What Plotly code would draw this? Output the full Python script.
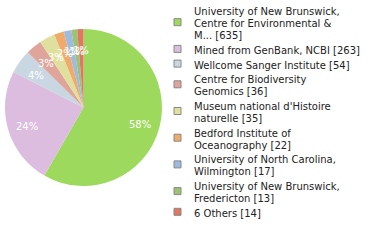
import math
import plotly.graph_objects as go

# ---- data ----
name_lines = [
    ["University of New Brunswick,", "Centre for Environmental &", "M..."],
    ["Mined from GenBank, NCBI"],
    ["Wellcome Sanger Institute"],
    ["Centre for Biodiversity", "Genomics"],
    ["Museum national d'Histoire", "naturelle"],
    ["Bedford Institute of", "Oceanography"],
    ["University of North Carolina,", "Wilmington"],
    ["University of New Brunswick,", "Fredericton"],
    ["6 Others"],
]
counts = [635, 263, 54, 36, 35, 22, 17, 13, 14]
colors = ["#9dd95c", "#dcbde0", "#c9d7e3", "#dfa59b", "#dfe09e",
          "#f0ab6b", "#9dbae1", "#9bc373", "#e0775f"]

W, H = 380, 240
FONT = "DejaVu Sans"

# pie geometry (pixels)
PX0, PX1, PY0, PY1 = 5, 162, 29, 186
CX, CY = (PX0 + PX1) / 2, (PY0 + PY1) / 2
R = (PX1 - PX0) / 2

labels = [" ".join(n) + f" [{c}]" for n, c in zip(name_lines, counts)]
total = sum(counts)

fig = go.Figure(go.Pie(
    values=counts, labels=labels, sort=False, direction="clockwise", rotation=0,
    marker=dict(colors=colors, line=dict(width=0)),
    textinfo="none", showlegend=False, hoverinfo="skip",
    domain=dict(x=[PX0 / W, PX1 / W], y=[1 - PY1 / H, 1 - PY0 / H]),
))

fig.update_layout(
    width=W, height=H, margin=dict(l=0, r=0, t=0, b=0),
    paper_bgcolor="white", plot_bgcolor="white",
)

# ---- percent labels (floor), placed at 0.75 R on slice mid-angle ----
cum = 0
for c in counts:
    mid = (cum + c / 2) / total * 2 * math.pi
    cum += c
    px = CX + 0.75 * R * math.sin(mid)
    py = CY - 0.75 * R * math.cos(mid) + 2
    fig.add_annotation(
        x=px / W, y=1 - py / H, xref="paper", yref="paper",
        text=f"{int(100 * c / total)}%", showarrow=False,
        xanchor="center", yanchor="middle",
        font=dict(family=FONT, size=10, color="white"),
    )

# ---- manual legend ----
y = 11.7
LH = 12.0
GAP = 2.7
for i, (nm, c) in enumerate(zip(name_lines, counts)):
    lines = nm[:-1] + [nm[-1] + f" [{c}]"]
    for j, ln in enumerate(lines):
        fig.add_annotation(
            x=192 / W, y=1 - (y + j * LH) / H, xref="paper", yref="paper",
            text=ln, showarrow=False, xanchor="left", yanchor="middle",
            font=dict(family=FONT, size=10, color="#222"),
        )
    yc = y + (len(lines) - 1) * LH / 2 - 1.5
    fig.add_shape(
        type="rect", xref="paper", yref="paper",
        x0=174 / W, x1=181 / W, y0=1 - (yc - 3.5) / H, y1=1 - (yc + 3.5) / H,
        fillcolor=colors[i], line=dict(color="#888", width=1),
    )
    y += len(lines) * LH + GAP

fig.write_html("out.html")
